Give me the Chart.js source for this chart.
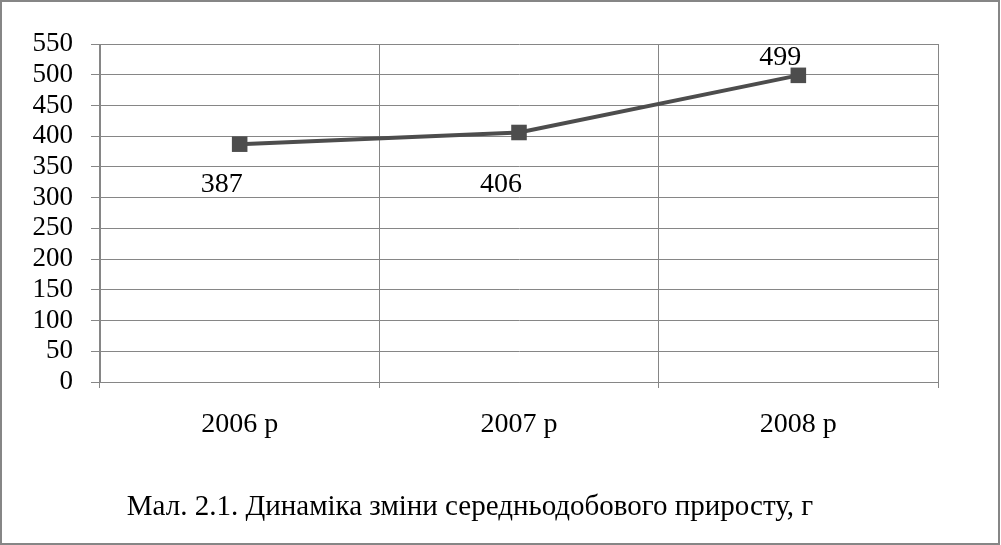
<!DOCTYPE html>
<html>
<head>
<meta charset="utf-8">
<script src="https://cdn.jsdelivr.net/npm/chart.js@4/dist/chart.umd.min.js"></script>
<style>
  html, body { margin: 0; padding: 0; background: #fff; }
  #wrap { position: relative; width: 1001px; height: 545px; }
  #frame { position: absolute; left: 0px; top: 0px; width: 996px; height: 541px; border: 2px solid #868686; pointer-events: none; }
  canvas { position: absolute; left: 0; top: 0; }
  #caption { position: absolute; left: 0; width: 940px; top: 491px; text-align: center; line-height: 29px;
    font-family: "Liberation Serif", serif; font-size: 29px; color: #000; white-space: nowrap; }
</style>
</head>
<body>
<div id="wrap">
  <canvas id="c" width="1001" height="545"></canvas>
  <div id="caption">Мал. 2.1. Динаміка зміни середньодобового приросту, г</div>
  <div id="frame"></div>
</div>
<script>
const categories = ['2006 р', '2007 р', '2008 р'];
const gainValues = [387, 406, 499];
const yMin = 0, yMax = 550, yStep = 50;

// label placement styling (pixels)
const labelDx = -18;
const labelDy = [40, 52, -18];

const lineColor = '#4d4d4d';
const gridColor = '#868686';
const serif = '"Liberation Serif", "Times New Roman", serif';

const dataLabels = {
  id: 'dataLabels',
  afterDatasetsDraw(chart) {
    const ctx = chart.ctx;
    const meta = chart.getDatasetMeta(0);
    ctx.save();
    ctx.font = '28px ' + serif;
    ctx.fillStyle = '#000';
    ctx.textAlign = 'center';
    ctx.textBaseline = 'middle';
    meta.data.forEach((pt, i) => {
      ctx.fillText(String(gainValues[i]), pt.x + labelDx, pt.y + labelDy[i]);
    });
    ctx.restore();
  }
};

new Chart(document.getElementById('c'), {
  type: 'line',
  data: {
    labels: categories,
    datasets: [{
      data: gainValues,
      borderColor: lineColor,
      backgroundColor: lineColor,
      borderWidth: 4,
      pointStyle: 'rect',
      pointRadius: 11,
      pointHoverRadius: 11,
      pointBackgroundColor: lineColor,
      pointBorderWidth: 0,
      tension: 0
    }]
  },
  options: {
    responsive: false,
    animation: false,
    events: [],
    layout: { padding: { top: 44, right: 63, left: 0, bottom: 0 } },
    plugins: { legend: { display: false }, tooltip: { enabled: false } },
    scales: {
      x: {
        offset: true,
        afterFit(s) { s.height = 163; },
        grid: { offset: true, color: gridColor, lineWidth: 1, tickLength: 6, drawTicks: true },
        border: { color: gridColor, width: 1 },
        ticks: { color: '#000', font: { family: serif, size: 28 }, padding: 20, maxRotation: 0, autoSkip: false }
      },
      y: {
        min: yMin, max: yMax,
        afterFit(s) { s.width = 100; },
        grid: { color: gridColor, lineWidth: 1, tickLength: 9 },
        border: { color: gridColor, width: 1 },
        ticks: { stepSize: yStep, color: '#000', font: { family: serif, size: 27 }, padding: 18, autoSkip: false }
      }
    }
  },
  plugins: [dataLabels]
});
</script>
</body>
</html>
